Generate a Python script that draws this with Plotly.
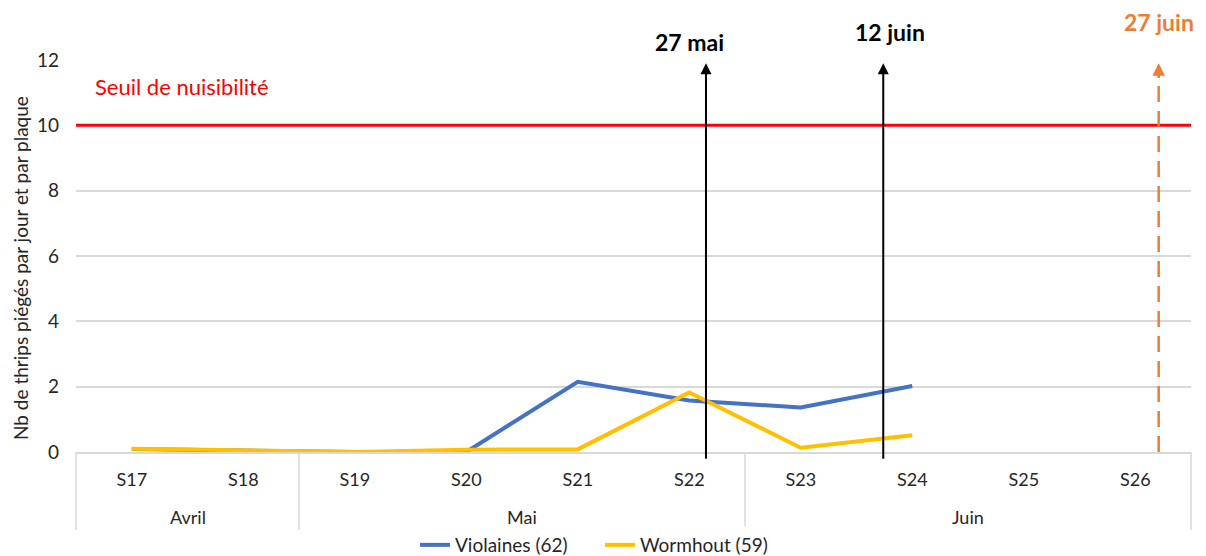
import plotly.graph_objects as go

weeks = ["S17", "S18", "S19", "S20", "S21", "S22", "S23", "S24", "S25", "S26"]
months = ["Avril", "Avril", "Mai", "Mai", "Mai", "Mai", "Juin", "Juin", "Juin", "Juin"]
violaines = [0.09, 0.03, 0.0, 0.0, 2.15, 1.58, 1.36, 2.02, None, None]
wormhout = [0.10, 0.04, 0.0, 0.07, 0.08, 1.82, 0.13, 0.51, None, None]
seuil = 10
dates_labels = ["27 mai", "12 juin", "27 juin"]
dates_pos = [5.15, 6.74, 9.21]   # position along week index (S17 = 0)
y_title = "Nb de thrips piégés par jour et par plaque"

FONT = "Lato"
TXT = "#262626"
GRID = "#d9d9d9"
OFF = 8                      # page body margin of the html page
L, R, T, B = 76 - OFF, 15, 60 - OFF, 104
W, H = 1206 - OFF, 556 - OFF
PX0, PY0 = 76, 452           # plot left / bottom in screenshot px
plot_w = W - L - R
plot_h = H - T - B


def pxx(sx):
    return (sx - PX0) / plot_w


def pxy(sy):
    return (PY0 - sy) / plot_h


fig = go.Figure()
fig.add_trace(go.Scatter(x=weeks, y=violaines, mode="lines", name="Violaines (62)",
                         line=dict(color="#4472C4", width=4), connectgaps=False))
fig.add_trace(go.Scatter(x=weeks, y=wormhout, mode="lines", name="Wormhout (59)",
                         line=dict(color="#FFC000", width=4), connectgaps=False))

# month groups: labels and dividers below the axis
groups = []
for i, m in enumerate(months):
    if not groups or groups[-1][0] != m:
        groups.append([m, i, i])
    else:
        groups[-1][2] = i
div_bottom = pxy(530)
for m, a, b in groups:
    fig.add_annotation(text=m, xref="x", x=(a + b) / 2, yref="paper", y=pxy(517),
                       showarrow=False, yanchor="middle", font=dict(size=18, family=FONT, color=TXT))
for m, a, b in groups[:-1]:
    fig.add_shape(type="line", xref="x", x0=b + 0.5, x1=b + 0.5, yref="paper", y0=0, y1=div_bottom,
                  line=dict(color=GRID, width=1.5))
for xe in (0, 1):
    fig.add_shape(type="line", xref="paper", x0=xe, x1=xe, yref="paper", y0=0, y1=div_bottom,
                  line=dict(color=GRID, width=1.5))

# threshold line
fig.add_shape(type="line", xref="paper", x0=0, x1=1, yref="y", y0=seuil, y1=seuil,
              line=dict(color="#FF0000", width=3))
fig.add_annotation(text="Seuil de nuisibilité", xref="paper", x=pxx(93), yref="y", y=11.2,
                   showarrow=False, xanchor="left", yanchor="middle",
                   font=dict(color="#FF0000", size=22, family=FONT))

# date arrows (on overlay linear axis x2)
colors = ["#000000", "#000000", "#ED7D31"]
label_sy = [42, 32, 22]
label_dx = [-0.15, 0.06, 0.0]
for i, (lab, pos) in enumerate(zip(dates_labels, dates_pos)):
    c = colors[i]
    if i < 2:
        fig.add_annotation(xref="x2", yref="y", x=pos, y=11.9, axref="x2", ayref="y",
                           ax=pos, ay=-0.25, showarrow=True, arrowhead=2, arrowsize=1.1,
                           arrowwidth=2, arrowcolor=c, text="")
    else:
        fig.add_shape(type="line", xref="x2", yref="y", x0=pos, x1=pos, y0=0, y1=11.45,
                      line=dict(color=c, width=2.5, dash="16px,9px"))
        fig.add_annotation(xref="x2", yref="y", x=pos, y=11.9, axref="x2", ayref="y",
                           ax=pos, ay=11.4, showarrow=True, arrowhead=2, arrowsize=1,
                           arrowwidth=2.5, arrowcolor=c, text="")
    fig.add_annotation(xref="x2", yref="paper", x=pos + label_dx[i], y=pxy(label_sy[i]),
                       text=f"<b>{lab}</b>", showarrow=False,
                       font=dict(color=c, size=23, family=FONT), yanchor="middle")

# y-axis title
fig.add_annotation(text=y_title, textangle=-90, xref="paper", x=pxx(20),
                   yref="paper", y=pxy(268), showarrow=False,
                   xanchor="center", yanchor="middle", font=dict(size=19, family=FONT, color=TXT))

fig.update_layout(
    width=W, height=H,
    margin=dict(l=L, r=R, t=T, b=B, autoexpand=False),
    plot_bgcolor="white", paper_bgcolor="white",
    font=dict(family=FONT, size=16, color=TXT),
    showlegend=True,
    legend=dict(orientation="h", x=pxx(600), xanchor="center", y=pxy(545), yanchor="middle",
                entrywidth=140, entrywidthmode="pixels",
                font=dict(size=19, family=FONT, color=TXT)),
    xaxis=dict(type="category", categoryarray=weeks, range=[-0.5, 9.5], automargin=False,
               showline=True, linecolor=GRID, linewidth=1.5, showgrid=False, ticks="",
               ticklabelstandoff=11, tickfont=dict(size=18, family=FONT, color=TXT)),
    xaxis2=dict(overlaying="x", range=[-0.5, 9.5], visible=False, type="linear"),
    yaxis=dict(range=[0, 12], dtick=2, showgrid=True, gridcolor=GRID, gridwidth=1.5,
               zeroline=False, showline=False, ticks="", automargin=False,
               ticklabelstandoff=16, tickfont=dict(size=19, family=FONT, color=TXT)),
)

fig.write_html("out.html")
